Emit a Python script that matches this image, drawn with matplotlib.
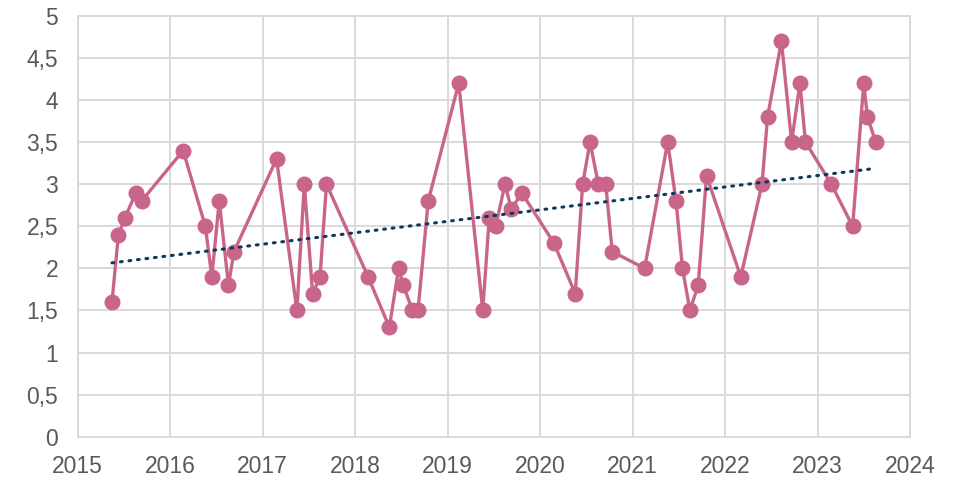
import matplotlib
matplotlib.use("Agg")
import matplotlib.pyplot as plt
import numpy as np

plt.rcParams['font.family'] = ['Liberation Sans', 'DejaVu Sans']

dates = [2015.37, 2015.44, 2015.51, 2015.63, 2015.69, 2016.14, 2016.38, 2016.45, 2016.53, 2016.63,
         2016.69, 2017.15, 2017.37, 2017.45, 2017.54, 2017.62, 2017.69, 2018.14, 2018.37, 2018.47,
         2018.52, 2018.62, 2018.68, 2018.79, 2019.12, 2019.38, 2019.45, 2019.52, 2019.62, 2019.69,
         2019.80, 2020.15, 2020.38, 2020.46, 2020.54, 2020.63, 2020.71, 2020.78, 2021.13, 2021.38,
         2021.47, 2021.54, 2021.62, 2021.71, 2021.80, 2022.17, 2022.40, 2022.46, 2022.61, 2022.72,
         2022.81, 2022.87, 2023.15, 2023.38, 2023.50, 2023.54, 2023.63]
values = [1.6, 2.4, 2.6, 2.9, 2.8, 3.4, 2.5, 1.9, 2.8, 1.8,
          2.2, 3.3, 1.5, 3.0, 1.7, 1.9, 3.0, 1.9, 1.3, 2.0,
          1.8, 1.5, 1.5, 2.8, 4.2, 1.5, 2.6, 2.5, 3.0, 2.7,
          2.9, 2.3, 1.7, 3.0, 3.5, 3.0, 3.0, 2.2, 2.0, 3.5,
          2.8, 2.0, 1.5, 1.8, 3.1, 1.9, 3.0, 3.8, 4.7, 3.5,
          4.2, 3.5, 3.0, 2.5, 4.2, 3.8, 3.5]
x_ticks = [2015, 2016, 2017, 2018, 2019, 2020, 2021, 2022, 2023, 2024]
y_ticks = [0, 0.5, 1, 1.5, 2, 2.5, 3, 3.5, 4, 4.5, 5]
y_labels = ['0', '0,5', '1', '1,5', '2', '2,5', '3', '3,5', '4', '4,5', '5']

fig = plt.figure(figsize=(9.61, 4.82), dpi=100)
ax = fig.add_axes([0.0809, 0.094, 0.866, 0.873])

x = np.array(dates)
y = np.array(values)
ax.plot(x, y, color='#C9658A', lw=2.4, marker='o', ms=10.5, zorder=3)

k, b = np.polyfit(x, y, 1)
xt = np.array([x.min(), x.max()])
ax.plot(xt, k * xt + b, color='#0E3A5A', lw=2.2, linestyle=(0, (0.6, 2.2)),
        dash_capstyle='round', zorder=4)

ax.set_xlim(2015, 2024)
ax.set_ylim(0, 5)
ax.set_xticks(x_ticks)
ax.set_xticklabels([str(t) for t in x_ticks])
ax.set_yticks(y_ticks)
ax.set_yticklabels(y_labels)
ax.grid(True, color='#D9D9D9', lw=1.4)
ax.set_axisbelow(True)
for s in ax.spines.values():
    s.set_color('#D9D9D9')
    s.set_linewidth(1.4)
ax.tick_params(length=0, labelsize=16.5, colors='#595959')
ax.tick_params(axis='x', pad=13)
ax.tick_params(axis='y', pad=14)

fig.savefig('out.png', dpi=100)
